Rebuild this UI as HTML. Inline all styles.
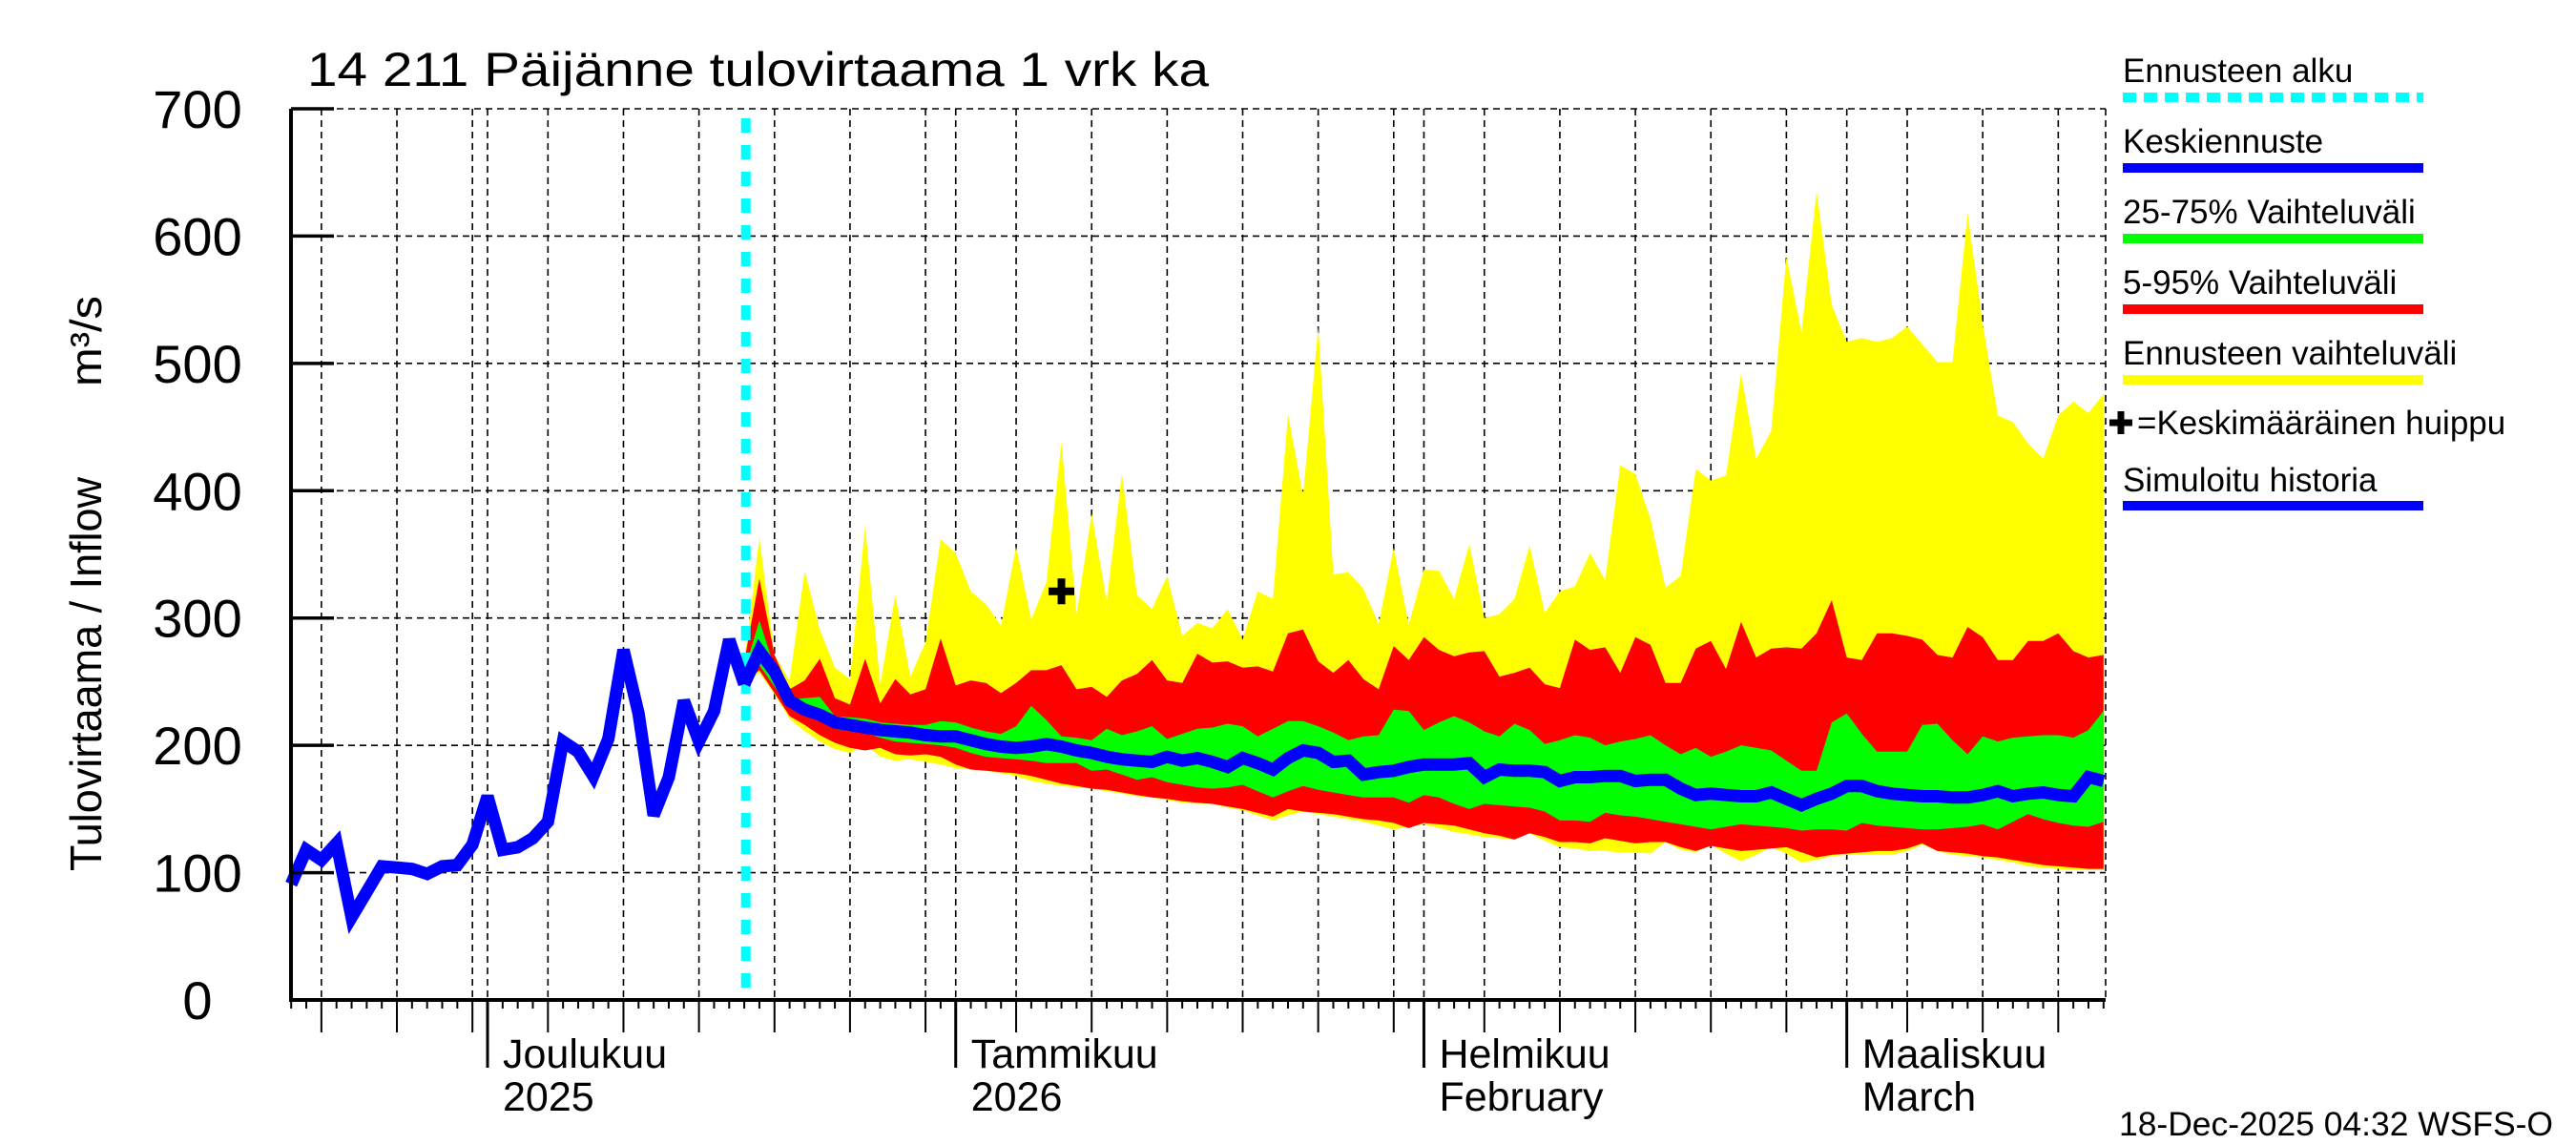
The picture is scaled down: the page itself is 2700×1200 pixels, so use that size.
<!DOCTYPE html>
<html><head><meta charset="utf-8">
<style>
html,body{margin:0;padding:0;background:#fff;}
svg{display:block;font-family:"Liberation Sans",sans-serif;}
</style></head>
<body>
<svg id="chart" width="2700" height="1200" viewBox="0 0 2700 1200" xmlns="http://www.w3.org/2000/svg">
<rect x="0" y="0" width="2700" height="1200" fill="#fff"/>
<g id="grid"></g>
<g id="bands"></g>
<g id="lines"></g>
<g id="axes"></g>
<text x="322" y="90" font-size="50" textLength="945" lengthAdjust="spacingAndGlyphs">14 211 Päijänne tulovirtaama 1 vrk ka</text>
<text transform="translate(106,913) rotate(-90)" font-size="46" textLength="413" lengthAdjust="spacingAndGlyphs">Tulovirtaama / Inflow</text>
<text transform="translate(106,405) rotate(-90)" font-size="46" textLength="95" lengthAdjust="spacingAndGlyphs">m³/s</text>
<g id="legend"></g>
<text x="2221" y="1190" font-size="35" textLength="455" lengthAdjust="spacingAndGlyphs">18-Dec-2025 04:32 WSFS-O</text>
</svg>
<script>
// history: days -13 (Nov 18) .. 17 (Dec 18), day 0 = Dec 1
const histStart = -13;
const histValues = [91,118,110,123,65,85,105,104,103,99,105,106,122,160,118,120,127,140,203,195,176,205,275,225,145,175,235,203,227,283,248];
// forecast: day 17 .. 107
const fcStart = 17;
const fcMax = [265,363,271,251,337,291,261,252,372,248,318,254,281,362,351,321,311,294,356,299,328,438,303,382,313,413,318,307,333,286,296,292,307,283,321,315,460,396,529,334,336,323,295,355,295,338,337,315,358,300,303,315,357,304,321,325,351,330,420,413,378,324,333,417,408,412,492,425,447,584,524,635,546,517,520,517,520,529,515,501,501,618,531,459,454,437,425,459,470,461,476];
const fcP95 = [266,331,271,244,251,268,237,232,268,233,252,240,244,284,247,251,249,241,249,259,259,263,244,246,238,251,256,267,251,249,272,265,266,261,262,258,288,291,266,257,267,252,244,278,267,285,275,270,273,274,254,257,261,248,245,283,275,277,257,285,279,249,249,276,282,260,297,269,276,277,276,288,314,269,267,288,288,286,283,271,269,293,285,267,267,282,282,288,274,269,271];
const fcP75 = [258,298,261,236,237,238,223,222,221,218,217,216,216,219,218,214,211,209,215,231,220,207,206,204,213,208,211,215,205,209,213,214,217,215,207,213,219,219,215,210,204,207,208,228,227,212,218,223,218,211,207,217,212,201,204,208,206,200,203,205,208,200,193,198,191,195,200,198,196,188,180,180,218,225,209,195,195,195,216,217,204,193,207,203,206,207,208,208,206,212,227];
const fcMedian = [248,274,258,235,228,224,218,216,214,212,211,210,208,207,207,204,201,199,198,199,201,199,196,194,191,189,188,187,191,188,190,187,183,190,186,181,190,196,194,187,188,177,179,180,183,185,185,185,186,175,181,180,180,179,172,175,175,176,176,172,173,173,166,161,162,161,160,160,163,158,153,158,162,168,168,164,162,161,160,160,159,159,161,164,160,162,163,161,160,175,172];
const fcP25 = [250,263,246,230,224,221,213,211,210,206,203,202,201,200,198,194,191,190,189,188,186,186,186,180,181,177,173,175,171,169,167,166,167,169,164,159,164,168,165,163,161,159,159,159,155,161,159,154,150,154,153,152,151,148,141,141,140,147,145,144,142,140,138,136,134,136,138,137,136,135,133,134,134,133,139,137,136,135,134,134,135,136,138,134,140,146,142,139,137,136,140];
const fcP5 = [249,259,241,223,216,208,202,198,196,198,193,192,193,191,185,181,180,179,178,176,173,170,168,166,165,163,161,159,158,156,155,154,152,150,147,144,150,148,147,146,144,142,141,139,135,139,138,137,134,131,129,126,131,128,124,124,123,127,125,123,124,124,120,117,121,119,117,118,119,120,116,112,114,115,116,117,117,119,123,117,116,115,113,112,110,108,106,105,104,103,103];
const fcMin = [248,257,240,221,211,203,197,194,201,191,188,189,187,185,182,181,180,178,176,172,170,168,167,166,164,162,160,159,157,155,154,154,151,149,145,141,145,148,146,144,142,140,137,134,136,138,135,132,130,128,127,126,131,125,120,119,117,117,116,116,115,124,118,116,122,115,109,114,120,115,108,110,113,114,114,114,114,117,122,117,114,113,112,110,108,105,104,103,102,102,102];
const yTicks = [0,100,200,300,400,500,600,700];
const monthLabels = [{day:0,l1:"Joulukuu",l2:"2025"},{day:31,l1:"Tammikuu",l2:"2026"},{day:62,l1:"Helmikuu",l2:"February"},{day:90,l1:"Maaliskuu",l2:"March"}];
const peakMarker = {day:38, value:321};
const forecastStartDay = 17.1;

const NS = "http://www.w3.org/2000/svg";
const X0 = 305, X1 = 2207, Y0 = 1048, Y1 = 114;
const dayFirst = -13;
function xs(d){ return 511 + 15.83*d; }
function ys(v){ return 1048 - 1.3343*v; }
function mk(tag, attrs, parent){ const e=document.createElementNS(NS,tag); for(const k in attrs) e.setAttribute(k,attrs[k]); parent.appendChild(e); return e; }

const grid = document.getElementById('grid');
const axes = document.getElementById('axes');
const bands = document.getElementById('bands');
const lines = document.getElementById('lines');
const legend = document.getElementById('legend');

yTicks.forEach(v=>{
  const y = ys(v);
  if(v>0){
    const g = mk('line',{x1:X0,x2:X1,y1:y,y2:y,stroke:'#000','stroke-width':1.6,'stroke-dasharray':'7,5'},grid);
    
    
  }
  const t = mk('line',{x1:X0,x2:X0+45,y1:y,y2:y,stroke:'#000','stroke-width':3.5},axes);
  
  
  const lb = mk('text',{x:207,y:y+20,'font-size':56,'text-anchor':'middle'},axes);
  lb.textContent = String(v);
  
  
});

const base = new Date(Date.UTC(2025,11,1));
for(let d=dayFirst; d<=107; d++){
  const dt = new Date(base.getTime()+d*86400000);
  const dom = dt.getUTCDate();
  const x = xs(d);
  let len = 9;
  if(dom===1){ len = 71; }
  else if(dom%5===0){ len = 34; }
  if(dom===1 || dom%5===0){
    const g = mk('line',{x1:x,x2:x,y1:Y1,y2:Y0,stroke:'#000','stroke-width':1.6,'stroke-dasharray':'7,5'},grid);
    
    
  }
  const t = mk('line',{x1:x,x2:x,y1:Y0,y2:Y0+len,stroke:'#000','stroke-width':dom===1?3:2},axes);
  
  
}
const rb = mk('line',{x1:X1,x2:X1,y1:Y1,y2:Y0,stroke:'#000','stroke-width':1.6,'stroke-dasharray':'7,5'},grid);



monthLabels.forEach(m=>{
  const x = xs(m.day)+16;
  const a = mk('text',{x:x,y:1119,'font-size':43},axes);
  a.textContent = m.l1;
  
  
  const b = mk('text',{x:x,y:1164,'font-size':43},axes);
  b.textContent = m.l2;
  
  
});

function band(upper, lower, color, name){
  let pts = [];
  for(let i=0;i<upper.length;i++) pts.push(xs(fcStart+i).toFixed(1)+','+ys(upper[i]).toFixed(1));
  for(let i=lower.length-1;i>=0;i--) pts.push(xs(fcStart+i).toFixed(1)+','+ys(lower[i]).toFixed(1));
  const p = mk('polygon',{points:pts.join(' '),fill:color,stroke:'none'},bands);
  
  
}
band(fcMax, fcMin, '#ffff00', 'forecast-range-band');
band(fcP95, fcP5, '#ff0000', 'band-5-95');
band(fcP75, fcP25, '#00ff00', 'band-25-75');

const fx = xs(forecastStartDay);
const cl = mk('line',{x1:fx,x2:fx,y1:Y1+10,y2:Y0,stroke:'#00ffff','stroke-width':10,'stroke-dasharray':'15,13'},lines);



function poly(vals, start, name){
  const pts = vals.map((v,i)=>xs(start+i).toFixed(1)+','+ys(v).toFixed(1)).join(' ');
  const p = mk('polyline',{points:pts,fill:'none',stroke:'#0000ff','stroke-width':13,'stroke-linejoin':'miter','stroke-miterlimit':3},lines);
  
  
}
poly(fcMedian, fcStart, 'median-forecast-line');
poly(histValues, histStart, 'simulated-history-line');

function plus(cx, cy, s, w, parent, name){
  const g = mk('path',{d:`M${cx-s/2},${cy}H${cx+s/2}M${cx},${cy-s/2}V${cy+s/2}`,stroke:'#000','stroke-width':w,fill:'none'},parent);
  
  
}
plus(xs(peakMarker.day), ys(peakMarker.value), 27, 8, lines, 'mean-peak-marker');

const ya = mk('line',{x1:X0,x2:X0,y1:Y1,y2:Y0+2,stroke:'#000','stroke-width':4},axes);


const xa = mk('line',{x1:X0-2,x2:X1,y1:Y0,y2:Y0,stroke:'#000','stroke-width':4},axes);



const LX = 2225, LX2 = 2540;
const legendItems = [
  {t:'Ennusteen alku', c:'#00ffff', ty:86, ly:102, dash:true},
  {t:'Keskiennuste', c:'#0000ff', ty:160, ly:176},
  {t:'25-75% Vaihteluväli', c:'#00ff00', ty:234, ly:250},
  {t:'5-95% Vaihteluväli', c:'#ff0000', ty:308, ly:324},
  {t:'Ennusteen vaihteluväli', c:'#ffff00', ty:382, ly:398},
  {t:'Simuloitu historia', c:'#0000ff', ty:515, ly:530}
];
legendItems.forEach(it=>{
  const t = mk('text',{x:LX,y:it.ty,'font-size':35},legend);
  t.textContent = it.t;
  
  
  const attrs = {x1:LX,x2:LX2,y1:it.ly,y2:it.ly,stroke:it.c,'stroke-width':10};
  if(it.dash) attrs['stroke-dasharray']='14,8';
  const l = mk('line',attrs,legend);
  
  
});
plus(2223, 443, 24, 7, legend, 'legend-peak-marker');
const pt = mk('text',{x:2240,y:455,'font-size':35},legend);
pt.textContent = '=Keskimääräinen huippu';


</script>
</body></html>
